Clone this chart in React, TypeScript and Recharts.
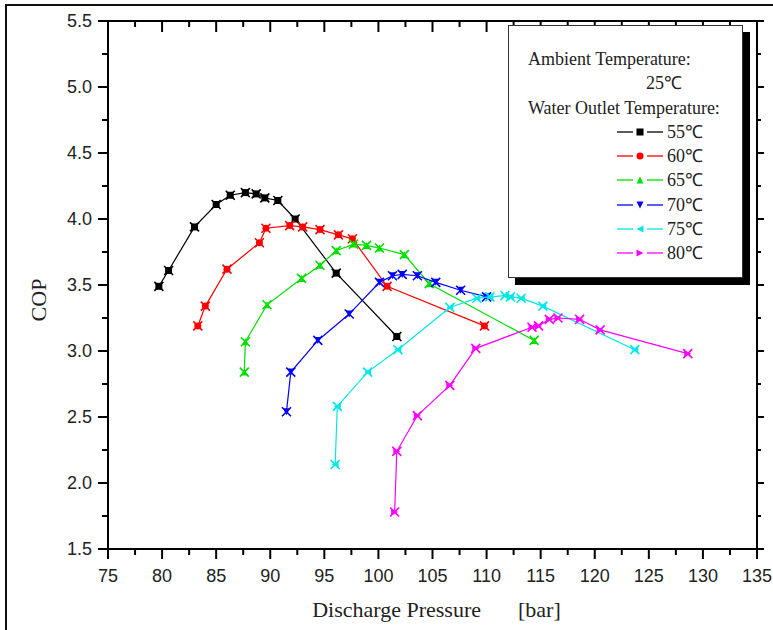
import { Legend, Scatter, ScatterChart, XAxis, YAxis } from "recharts"

// Discharge pressure [bar] / COP per water outlet temperature
const pressure55 = [79.7, 80.6, 83.0, 85.0, 86.3, 87.7, 88.7, 89.5, 90.7, 92.3, 96.1, 101.7]
const cop55 = [3.49, 3.61, 3.94, 4.11, 4.18, 4.2, 4.19, 4.16, 4.14, 4.0, 3.59, 3.11]
const pressure60 = [83.3, 84.0, 86.0, 89.0, 89.6, 91.8, 93.0, 94.6, 96.3, 97.6, 100.8, 109.8]
const cop60 = [3.19, 3.34, 3.62, 3.82, 3.93, 3.95, 3.94, 3.92, 3.88, 3.85, 3.49, 3.19]
const pressure65 = [87.6, 87.7, 89.7, 92.9, 94.6, 96.1, 97.7, 98.9, 100.1, 102.4, 104.7, 114.4]
const cop65 = [2.84, 3.07, 3.35, 3.55, 3.65, 3.76, 3.81, 3.8, 3.78, 3.73, 3.51, 3.08]
const pressure70 = [91.5, 91.9, 94.4, 97.3, 100.1, 101.3, 102.2, 103.6, 105.3, 107.6, 110.0]
const cop70 = [2.54, 2.84, 3.08, 3.28, 3.52, 3.57, 3.58, 3.57, 3.52, 3.46, 3.41]
const pressure75 = [96.0, 96.2, 99.0, 101.8, 106.6, 109.1, 110.3, 111.7, 112.2, 113.2, 115.2, 123.7]
const cop75 = [2.14, 2.58, 2.84, 3.01, 3.33, 3.4, 3.41, 3.42, 3.41, 3.4, 3.34, 3.01]
const pressure80 = [101.5, 101.7, 103.6, 106.6, 109.0, 114.2, 114.8, 115.8, 116.6, 118.6, 120.5, 128.6]
const cop80 = [1.78, 2.24, 2.51, 2.74, 3.02, 3.18, 3.19, 3.24, 3.25, 3.24, 3.16, 2.98]

const xTicks = [75, 77.5, 80, 82.5, 85, 87.5, 90, 92.5, 95, 97.5, 100, 102.5, 105, 107.5, 110, 112.5, 115, 117.5, 120, 122.5, 125, 127.5, 130, 132.5, 135]
const yTicks = [1.5, 1.75, 2, 2.25, 2.5, 2.75, 3, 3.25, 3.5, 3.75, 4, 4.25, 4.5, 4.75, 5, 5.25, 5.5]

const serif = '"Liberation Serif", "Times New Roman", serif'
const sans = '"Liberation Sans", Arial, sans-serif'

const toPoints = (xs: number[], ys: number[]) => xs.map((x, i) => ({ x, y: ys[i] }))

const series = [
  { name: "55℃", color: "#000000", kind: "square", data: toPoints(pressure55, cop55) },
  { name: "60℃", color: "#ff0000", kind: "circle", data: toPoints(pressure60, cop60) },
  { name: "65℃", color: "#00e000", kind: "up", data: toPoints(pressure65, cop65) },
  { name: "70℃", color: "#0000ff", kind: "down", data: toPoints(pressure70, cop70) },
  { name: "75℃", color: "#00e8e8", kind: "left", data: toPoints(pressure75, cop75) },
  { name: "80℃", color: "#ff00ff", kind: "right", data: toPoints(pressure80, cop80) },
]

function symbol(kind: string, cx: number, cy: number, s: number, color: string) {
  switch (kind) {
    case "circle":
      return <circle cx={cx} cy={cy} r={s} fill={color} />
    case "up":
      return <polygon points={`${cx},${cy - s} ${cx + s},${cy + s} ${cx - s},${cy + s}`} fill={color} />
    case "down":
      return <polygon points={`${cx - s},${cy - s} ${cx + s},${cy - s} ${cx},${cy + s}`} fill={color} />
    case "left":
      return <polygon points={`${cx - s},${cy} ${cx + s},${cy - s} ${cx + s},${cy + s}`} fill={color} />
    case "right":
      return <polygon points={`${cx + s},${cy} ${cx - s},${cy - s} ${cx - s},${cy + s}`} fill={color} />
    default:
      return <rect x={cx - s} y={cy - s} width={s * 2} height={s * 2} fill={color} />
  }
}

// markers in the plot look like blurred stars: symbol plus a cross
const makeShape = (kind: string, color: string) => (props: any) => {
  const { cx, cy } = props
  const a = 4.5
  return (
    <g>
      {symbol(kind, cx, cy, 3.5, color)}
      <path
        d={`M${cx - a},${cy - a}L${cx + a},${cy + a}M${cx - a},${cy + a}L${cx + a},${cy - a}`}
        stroke={color}
        strokeWidth={1.6}
      />
    </g>
  )
}

const isMajorX = (v: number) => Math.abs(v / 5 - Math.round(v / 5)) < 1e-6
const isMajorY = (v: number) => Math.abs(v * 2 - Math.round(v * 2)) < 1e-6

const BottomTick = ({ x, y, payload }: any) => {
  const major = isMajorX(payload.value)
  return (
    <g>
      <line x1={x} x2={x} y1={y} y2={y + (major ? 10 : 6)} stroke="#000" strokeWidth={2} />
      {major && (
        <text x={x} y={y + 33} textAnchor="middle" fontFamily={sans} fontSize={18} fill="#222">
          {payload.value}
        </text>
      )}
    </g>
  )
}

const TopTick = ({ x, y, payload }: any) => {
  const major = isMajorX(payload.value)
  return <line x1={x} x2={x} y1={y} y2={y + (major ? 11 : 6)} stroke="#000" strokeWidth={2} />
}

const LeftTick = ({ x, y, payload }: any) => {
  const major = isMajorY(payload.value)
  return (
    <g>
      <line x1={x - (major ? 10 : 6)} x2={x} y1={y} y2={y} stroke="#000" strokeWidth={2} />
      {major && (
        <text x={x - 16} y={y} dy="0.36em" textAnchor="end" fontFamily={sans} fontSize={18} fill="#222">
          {payload.value.toFixed(1)}
        </text>
      )}
    </g>
  )
}

const RightTick = ({ x, y, payload }: any) => {
  const major = isMajorY(payload.value)
  return <line x1={x} x2={x + (major ? 7 : 4)} y1={y} y2={y} stroke="#000" strokeWidth={2} />
}

const LegendBox = () => (
  <div
    style={{
      position: "relative",
      width: 235,
      height: 253,
      boxSizing: "border-box",
      border: "1.5px solid #333",
      background: "#fff",
      boxShadow: "7px 7px 0 #000",
      fontFamily: serif,
      fontSize: 18,
      color: "#222",
      lineHeight: "20px",
      whiteSpace: "nowrap",
    }}
  >
    <div style={{ position: "absolute", left: 19, top: 23 }}>Ambient Temperature:</div>
    <div style={{ position: "absolute", left: 155, top: 47, transform: "translateX(-50%)" }}>25℃</div>
    <div style={{ position: "absolute", left: 19, top: 72 }}>Water Outlet Temperature:</div>
    {series.map((s, i) => (
      <div key={s.name} style={{ position: "absolute", left: 0, top: 96 + i * 24.2, height: 20, width: 230 }}>
        <svg width={50} height={20} style={{ position: "absolute", left: 107, top: 0 }}>
          <line x1={1} x2={17} y1={10} y2={10} stroke={s.color} strokeWidth={1.3} />
          <line x1={31} x2={47} y1={10} y2={10} stroke={s.color} strokeWidth={1.3} />
          {symbol(s.kind, 24, 10, 3.5, s.color)}
        </svg>
        <span style={{ position: "absolute", left: 158, top: 0 }}>{s.name}</span>
      </div>
    ))}
  </div>
)

export default function App() {
  return (
    <div style={{ position: "absolute", left: 0, top: 0, width: 773, height: 630, background: "#fff", overflow: "hidden" }}>
      <div
        style={{
          position: "absolute",
          left: 5,
          top: 4,
          width: 780,
          height: 640,
          borderLeft: "2px solid #111",
          borderTop: "2px solid #111",
        }}
      />
      <ScatterChart width={773} height={630} margin={{ top: 11, right: 6, bottom: 21, left: 8 }}>
        <XAxis
          xAxisId="b"
          type="number"
          dataKey="x"
          domain={[75, 135]}
          allowDataOverflow
          ticks={xTicks}
          interval={0}
          height={60}
          tickSize={0}
          tickMargin={0}
          tickLine={false}
          axisLine={{ stroke: "#000", strokeWidth: 2 }}
          tick={(p: any) => <BottomTick {...p} />}
          label={{
            content: () => (
              <g fontFamily={serif} fontSize={22} fill="#222">
                <text x={481} y={617} textAnchor="end">
                  Discharge Pressure
                </text>
                <text x={518} y={617}>
                  [bar]
                </text>
              </g>
            ),
          }}
        />
        <XAxis
          xAxisId="t"
          orientation="top"
          type="number"
          dataKey="x"
          domain={[75, 135]}
          allowDataOverflow
          ticks={xTicks}
          interval={0}
          height={10}
          tickSize={0}
          tickMargin={0}
          tickLine={false}
          axisLine={{ stroke: "#000", strokeWidth: 2 }}
          tick={(p: any) => <TopTick {...p} />}
        />
        <YAxis
          yAxisId="l"
          type="number"
          dataKey="y"
          domain={[1.5, 5.5]}
          allowDataOverflow
          ticks={yTicks}
          interval={0}
          width={100}
          tickSize={0}
          tickMargin={0}
          tickLine={false}
          axisLine={{ stroke: "#000", strokeWidth: 2 }}
          tick={(p: any) => <LeftTick {...p} />}
          label={{
            content: () => (
              <text
                x={46}
                y={300}
                transform="rotate(-90 46 300)"
                textAnchor="middle"
                fontFamily={serif}
                fontSize={22}
                fill="#222"
              >
                COP
              </text>
            ),
          }}
        />
        <YAxis
          yAxisId="r"
          orientation="right"
          type="number"
          dataKey="y"
          domain={[1.5, 5.5]}
          allowDataOverflow
          ticks={yTicks}
          interval={0}
          width={10}
          tickSize={0}
          tickMargin={0}
          tickLine={false}
          axisLine={{ stroke: "#000", strokeWidth: 2 }}
          tick={(p: any) => <RightTick {...p} />}
        />
        {series.map((s) => (
          <Scatter
            key={s.name}
            name={s.name}
            xAxisId="b"
            yAxisId="l"
            data={s.data}
            fill={s.color}
            line={{ stroke: s.color, strokeWidth: 1.2 }}
            lineType="joint"
            shape={makeShape(s.kind, s.color)}
            isAnimationActive={false}
          />
        ))}
        <Legend
          layout="vertical"
          align="center"
          verticalAlign="middle"
          wrapperStyle={{ left: 508, top: 25, width: 235, height: 253 }}
          content={() => <LegendBox />}
        />
      </ScatterChart>
    </div>
  )
}
